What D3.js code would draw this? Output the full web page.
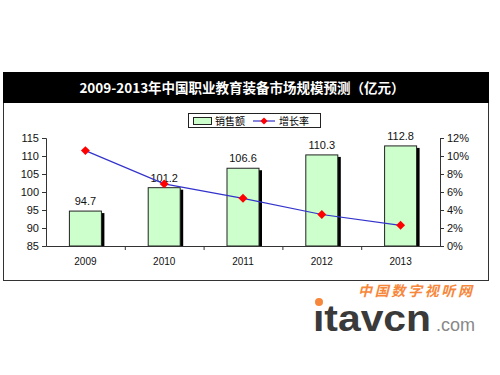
<!DOCTYPE html>
<html lang="zh">
<head>
<meta charset="utf-8">
<title>2009-2013年中国职业教育装备市场规模预测</title>
<script src="https://d3js.org/d3.v7.min.js"></script>
<style>
  body { margin: 0; background: #fff; }
  svg text { font-family: Arial, "Liberation Sans", sans-serif; }
</style>
</head>
<body>
<svg width="500" height="375"></svg>
<script>
// data
var years = ["2009", "2010", "2011", "2012", "2013"];
var sales = [94.7, 101.2, 106.6, 110.3, 112.8];
var growth = [10.6, 6.9, 5.3, 3.5, 2.3];
var leftTicks = [85, 90, 95, 100, 105, 110, 115];
var rightTicks = [0, 2, 4, 6, 8, 10, 12];

var svg = d3.select("svg");
var cjk = "'Noto Sans CJK SC', sans-serif";

// frame + title bar
svg.append("rect").attr("x", 3.5).attr("y", 72.5).attr("width", 485).attr("height", 208)
    .attr("fill", "#fff").attr("stroke", "#333").attr("stroke-width", 1);
svg.append("rect").attr("x", 3).attr("y", 72).attr("width", 486).attr("height", 31).attr("fill", "#000");
svg.append("text").attr("x", 242).attr("y", 93).attr("text-anchor", "middle")
    .attr("fill", "#fff").attr("font-size", 13.5).attr("font-weight", "bold")
    .style("font-family", cjk)
    .text("2009-2013年中国职业教育装备市场规模预测（亿元）");

var x = d3.scaleBand().domain(years).range([46, 440]);
var y = d3.scaleLinear().domain([85, 115]).range([246, 138]);
var y2 = d3.scaleLinear().domain([0, 12]).range([246, 138]);

var g = svg.append("g");

// bars with shadow
var bw = 32;
g.selectAll("rect.shadow").data(sales).enter().append("rect")
    .attr("x", function(d, i) { return x(years[i]) + x.bandwidth() / 2 - bw / 2 + 3; })
    .attr("y", function(d) { return y(d) + 2; })
    .attr("width", bw).attr("height", function(d) { return 246 - y(d) - 2; })
    .attr("fill", "#000");
g.selectAll("rect.bar").data(sales).enter().append("rect")
    .attr("x", function(d, i) { return x(years[i]) + x.bandwidth() / 2 - bw / 2; })
    .attr("y", function(d) { return y(d); })
    .attr("width", bw).attr("height", function(d) { return 246 - y(d); })
    .attr("fill", "#ccffcc").attr("stroke", "#222").attr("stroke-width", 1);

// value labels
g.selectAll("text.val").data(sales).enter().append("text")
    .attr("x", function(d, i) { return x(years[i]) + x.bandwidth() / 2; })
    .attr("y", function(d) { return y(d) - 6; })
    .attr("text-anchor", "middle").attr("font-size", 11).attr("fill", "#111")
    .text(function(d) { return d.toFixed(1); });

// axes
var axL = d3.axisLeft(y).tickValues(leftTicks).tickSize(4).tickPadding(3);
var axR = d3.axisRight(y2).tickValues(rightTicks).tickSize(4).tickPadding(3)
    .tickFormat(function(d) { return d + "%"; });
var axB = d3.axisBottom(x).tickSize(0).tickPadding(12);

var gl = svg.append("g").attr("transform", "translate(46,0)").call(axL);
var gr = svg.append("g").attr("transform", "translate(440,0)").call(axR);
var gb = svg.append("g").attr("transform", "translate(0,246)").call(axB);
[gl, gr, gb].forEach(function(a) {
  a.select(".domain").attr("stroke", "#333");
  a.selectAll(".tick line").attr("stroke", "#333");
  a.selectAll("text").attr("font-size", 11).attr("fill", "#111")
      .style("font-family", "Arial, 'Liberation Sans', sans-serif");
});
gb.selectAll(".tick text").attr("font-size", 10);
// category separator ticks on x axis
gb.selectAll("line.sep").data(years.slice(1)).enter().append("line")
    .attr("x1", function(d) { return x(d) + 0.5; }).attr("x2", function(d) { return x(d) + 0.5; })
    .attr("y1", 0).attr("y2", 4).attr("stroke", "#333");

// growth line
var line = d3.line()
    .x(function(d, i) { return x(years[i]) + x.bandwidth() / 2; })
    .y(function(d) { return y2(d); });
g.append("path").datum(growth).attr("d", line)
    .attr("fill", "none").attr("stroke", "#3333cc").attr("stroke-width", 1.2);
g.selectAll("path.mk").data(growth).enter().append("path")
    .attr("d", d3.symbol().type(d3.symbolSquare).size(40))
    .attr("transform", function(d, i) {
      return "translate(" + (x(years[i]) + x.bandwidth() / 2) + "," + y2(d) + ") rotate(45)";
    })
    .attr("fill", "#ff0000");

// legend
var lg = svg.append("g").attr("transform", "translate(188,113)");
lg.append("rect").attr("x", 0.5).attr("y", 0.5).attr("width", 132).attr("height", 14)
    .attr("fill", "#fff").attr("stroke", "#222");
lg.append("rect").attr("x", 5.5).attr("y", 4.5).attr("width", 18).attr("height", 7)
    .attr("fill", "#ccffcc").attr("stroke", "#222");
lg.append("text").attr("x", 27).attr("y", 11.5).attr("font-size", 10).style("font-family", cjk)
    .text("销售额");
lg.append("line").attr("x1", 65).attr("x2", 87).attr("y1", 8).attr("y2", 8)
    .attr("stroke", "#3333cc").attr("stroke-width", 1.2);
lg.append("path").attr("d", d3.symbol().type(d3.symbolSquare).size(26))
    .attr("transform", "translate(76,8) rotate(45)").attr("fill", "#ff0000");
lg.append("text").attr("x", 91).attr("y", 11.5).attr("font-size", 10).style("font-family", cjk)
    .text("增长率");

// watermark
svg.append("text").attr("x", 358).attr("y", 296).attr("font-size", 14).attr("font-weight", "bold")
    .attr("font-style", "italic").attr("fill", "#f7873a").style("font-family", cjk)
    .attr("textLength", 114).text("中国数字视听网");
svg.append("text").attr("x", 313).attr("y", 331).attr("font-size", 37).attr("font-weight", "bold")
    .attr("fill", "#3a3a3a").style("font-family", "Arial, 'Liberation Sans', sans-serif")
    .attr("textLength", 118).attr("lengthAdjust", "spacingAndGlyphs").text("ıtavcn");
svg.append("circle").attr("cx", 319).attr("cy", 302).attr("r", 4).attr("fill", "#f7873a");
svg.append("text").attr("x", 436).attr("y", 331).attr("font-size", 18)
    .attr("fill", "#888").style("font-family", "Arial, 'Liberation Sans', sans-serif")
    .text(".com");
</script>
</body>
</html>
